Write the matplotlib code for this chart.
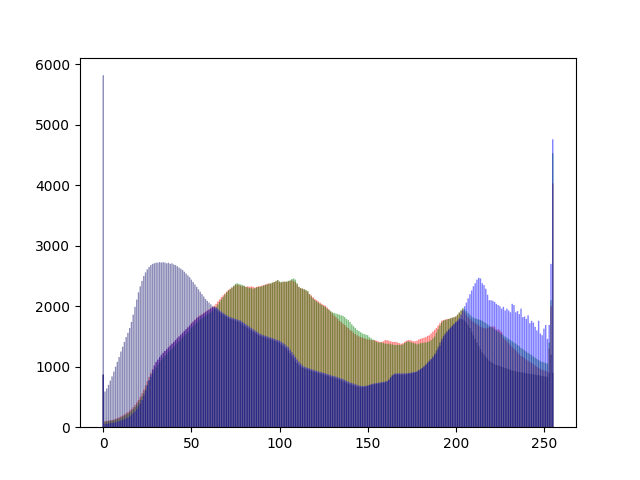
import matplotlib
matplotlib.use("Agg")
import matplotlib.pyplot as plt
import numpy as np

# per-bin pixel counts (0..255)
red = [870,
    100, 105, 110, 115, 120, 130, 140, 150, 165, 180,
    195, 210, 230, 250, 275, 300, 330, 370, 410, 450,
    500, 560, 620, 690, 760, 830, 900, 960, 1020, 1070,
    1110, 1150, 1190, 1230, 1260, 1290, 1320, 1350, 1380, 1410,
    1440, 1470, 1500, 1530, 1560, 1590, 1620, 1650, 1680, 1720,
    1750, 1780, 1810, 1830, 1850, 1870, 1890, 1910, 1930, 1950,
    1970, 1990, 2010, 2040, 2080, 2110, 2150, 2180, 2210, 2240,
    2270, 2290, 2310, 2330, 2350, 2360, 2350, 2340, 2330, 2330,
    2320, 2330, 2320, 2330, 2320, 2310, 2320, 2330, 2330, 2340,
    2350, 2360, 2370, 2380, 2370, 2390, 2400, 2410, 2430, 2400,
    2390, 2400, 2410, 2400, 2410, 2420, 2430, 2420, 2400, 2360,
    2320, 2300, 2290, 2280, 2260, 2240, 2200, 2180, 2150, 2120,
    2100, 2080, 2060, 2040, 2020, 2010, 1980, 1950, 1910, 1880,
    1850, 1820, 1790, 1760, 1740, 1710, 1690, 1660, 1640, 1610,
    1590, 1560, 1540, 1520, 1500, 1490, 1480, 1470, 1460, 1450,
    1450, 1440, 1440, 1440, 1430, 1420, 1410, 1410, 1420, 1440,
    1440, 1430, 1420, 1410, 1410, 1410, 1400, 1390, 1380, 1390,
    1410, 1430, 1440, 1440, 1430, 1420, 1420, 1430, 1450, 1460,
    1470, 1480, 1490, 1510, 1520, 1550, 1580, 1610, 1640, 1680,
    1720, 1760, 1770, 1780, 1790, 1790, 1800, 1810, 1820, 1830,
    1860, 1890, 1920, 1950, 1900, 1860, 1820, 1790, 1760, 1740,
    1720, 1700, 1680, 1660, 1650, 1640, 1630, 1640, 1650, 1660,
    1670, 1660, 1610, 1620, 1600, 1570, 1480, 1450, 1420, 1390,
    1360, 1330, 1300, 1270, 1240, 1210, 1180, 1160, 1140, 1120,
    1100, 1080, 1060, 1040, 1020, 1000, 980, 960, 950, 940,
    930, 920, 1300, 2000, 4030]

green = [870,
    90, 95, 100, 105, 110, 118, 126, 135, 148, 160,
    175, 190, 205, 225, 245, 270, 300, 335, 370, 410,
    455, 510, 565, 630, 700, 770, 830, 890, 940, 990,
    1030, 1070, 1110, 1150, 1180, 1210, 1240, 1270, 1300, 1330,
    1360, 1390, 1420, 1450, 1480, 1510, 1540, 1570, 1600, 1640,
    1670, 1700, 1730, 1750, 1780, 1800, 1820, 1840, 1860, 1880,
    1900, 1920, 1950, 1990, 2030, 2070, 2110, 2150, 2190, 2230,
    2260, 2280, 2310, 2340, 2370, 2380, 2370, 2360, 2350, 2340,
    2320, 2310, 2300, 2300, 2290, 2300, 2310, 2320, 2320, 2330,
    2340, 2350, 2360, 2370, 2380, 2390, 2400, 2420, 2430, 2410,
    2400, 2410, 2400, 2410, 2420, 2430, 2450, 2460, 2440, 2380,
    2320, 2300, 2290, 2280, 2270, 2250, 2200, 2160, 2130, 2100,
    2080, 2060, 2040, 2020, 2000, 1990, 1960, 1940, 1920, 1900,
    1890, 1880, 1870, 1860, 1850, 1840, 1820, 1790, 1770, 1740,
    1700, 1670, 1640, 1610, 1590, 1570, 1550, 1540, 1530, 1520,
    1490, 1470, 1450, 1430, 1410, 1400, 1400, 1400, 1390, 1380,
    1380, 1380, 1370, 1370, 1360, 1360, 1360, 1360, 1360, 1370,
    1390, 1410, 1420, 1410, 1400, 1390, 1380, 1370, 1380, 1390,
    1390, 1400, 1400, 1410, 1420, 1440, 1470, 1500, 1560, 1620,
    1680, 1730, 1760, 1770, 1780, 1790, 1800, 1810, 1820, 1830,
    1860, 1900, 1940, 1970, 1950, 1920, 1890, 1860, 1830, 1810,
    1800, 1790, 1780, 1770, 1760, 1740, 1720, 1700, 1680, 1660,
    1640, 1620, 1600, 1580, 1560, 1540, 1520, 1500, 1480, 1460,
    1440, 1420, 1400, 1380, 1360, 1340, 1310, 1290, 1270, 1250,
    1230, 1210, 1190, 1170, 1150, 1130, 1110, 1090, 1080, 1070,
    1060, 1050, 1400, 2100, 4530]

blue = [870,
    50, 55, 60, 65, 70, 75, 80, 90, 100, 110,
    120, 130, 145, 160, 180, 200, 230, 260, 300, 340,
    390, 450, 520, 600, 690, 780, 870, 950, 1020, 1080,
    1120, 1160, 1200, 1230, 1260, 1290, 1320, 1350, 1380, 1410,
    1440, 1470, 1500, 1530, 1560, 1590, 1620, 1650, 1680, 1710,
    1740, 1770, 1800, 1820, 1840, 1860, 1880, 1900, 1920, 1940,
    1960, 1980, 1990, 1980, 1960, 1930, 1910, 1890, 1870, 1850,
    1830, 1820, 1810, 1800, 1790, 1780, 1770, 1760, 1740, 1720,
    1700, 1680, 1660, 1640, 1620, 1600, 1580, 1560, 1540, 1530,
    1520, 1510, 1500, 1490, 1480, 1470, 1460, 1450, 1440, 1430,
    1410, 1390, 1370, 1340, 1320, 1280, 1240, 1200, 1160, 1120,
    1080, 1050, 1020, 1000, 990, 980, 970, 960, 950, 940,
    930, 920, 915, 905, 900, 890, 880, 870, 860, 850,
    845, 835, 825, 815, 805, 795, 780, 765, 750, 740,
    730, 720, 710, 700, 690, 685, 680, 680, 685, 690,
    700, 710, 720, 725, 730, 735, 740, 745, 750, 755,
    760, 780, 810, 850, 880, 890, 890, 890, 890, 890,
    890, 890, 895, 900, 905, 910, 915, 920, 940, 960,
    980, 1000, 1030, 1060, 1090, 1120, 1150, 1190, 1230, 1290,
    1350, 1420, 1480, 1530, 1570, 1610, 1640, 1670, 1700, 1730,
    1760, 1800, 1860, 1930, 2000, 2060, 2130, 2200, 2260, 2330,
    2380, 2440, 2470, 2460, 2380, 2350, 2290, 2190, 2100, 2100,
    2090, 2070, 2040, 2020, 2000, 1960, 1990, 1930, 1960, 1930,
    1900, 2040, 2020, 1900, 1920, 1870, 1960, 1820, 1830, 1790,
    1850, 1720, 1760, 1730, 1660, 1600, 1760, 1550, 1520, 1630,
    1690, 1460, 1690, 2700, 4760]

# fourth histogram, mostly hidden under the blue one past bin 64
gray = [5820,
    590, 640, 700, 770, 840, 920, 1000, 1080, 1160, 1250,
    1330, 1410, 1490, 1560, 1640, 1740, 1860, 1990, 2110, 2230,
    2330, 2420, 2500, 2560, 2610, 2650, 2680, 2700, 2710, 2720,
    2720, 2730, 2720, 2730, 2720, 2710, 2720, 2700, 2710, 2690,
    2680, 2660, 2640, 2620, 2600, 2570, 2540, 2510, 2480, 2440,
    2400, 2360, 2320, 2280, 2240, 2200, 2160, 2120, 2090, 2060,
    2030, 2000, 1980, 1950, 1920, 1900, 1880, 1860, 1840, 1820,
    1800, 1790, 1780, 1770, 1760, 1750, 1740, 1720, 1700, 1680,
    1660, 1640, 1620, 1600, 1580, 1560, 1540, 1520, 1510, 1500,
    1490, 1480, 1470, 1460, 1450, 1440, 1430, 1420, 1410, 1390,
    1370, 1350, 1320, 1300, 1260, 1220, 1180, 1140, 1100, 1060,
    1030, 1000, 980, 970, 960, 950, 940, 930, 920, 910,
    900, 895, 885, 880, 870, 860, 850, 840, 830, 825,
    815, 805, 795, 785, 775, 760, 745, 730, 720, 710,
    700, 690, 680, 670, 665, 660, 660, 665, 670, 680,
    690, 700, 705, 710, 715, 720, 725, 730, 735, 740,
    760, 790, 830, 860, 870, 870, 870, 870, 870, 870,
    870, 875, 880, 885, 890, 895, 900, 920, 940, 960,
    980, 1010, 1040, 1070, 1100, 1130, 1170, 1210, 1270, 1330,
    1400, 1460, 1510, 1550, 1590, 1620, 1650, 1680, 1710, 1740,
    1760, 1780, 1790, 1780, 1760, 1730, 1690, 1640, 1580, 1520,
    1460, 1400, 1340, 1290, 1240, 1200, 1160, 1130, 1100, 1080,
    1060, 1040, 1030, 1020, 1010, 1000, 990, 980, 970, 960,
    950, 940, 930, 920, 920, 910, 910, 900, 900, 890,
    890, 880, 880, 870, 870, 860, 860, 850, 850, 840,
    840, 830, 900, 1200, 900]

levels = np.arange(256)

for counts, col in [(red, 'r'), (green, 'g'), (blue, 'b'), (gray, 'midnightblue')]:
    plt.bar(levels, counts, color=col, alpha=0.5, snap=False)

plt.savefig("out.png")
